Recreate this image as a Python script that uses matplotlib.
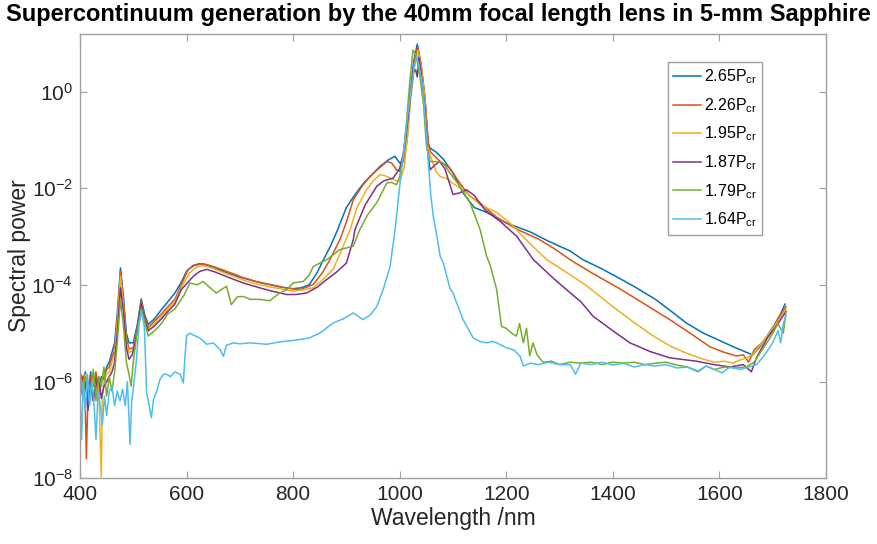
import numpy as np
import matplotlib
matplotlib.use('Agg')
import matplotlib.pyplot as plt
from matplotlib.ticker import NullLocator, FixedLocator

plt.rcParams['font.family'] = ['Liberation Sans', 'DejaVu Sans']
plt.rcParams['mathtext.fontset'] = 'custom'
plt.rcParams['mathtext.rm'] = 'Liberation Sans'
plt.rcParams['mathtext.it'] = 'Liberation Sans'

# spectra, values stored as log10(power)
wl_265 = [400, 405, 410, 415, 420, 425, 430, 435, 440, 445, 450, 455, 460, 465, 470, 476, 482, 487, 492, 500,
          508, 515, 521, 528, 540, 553, 565, 578, 590, 600, 612, 625, 640, 660, 680, 700, 720, 740, 760, 780,
          800, 815, 830, 845, 857, 870, 882, 900, 915, 932, 948, 963, 978, 991, 1000, 1006, 1012, 1019, 1026,
          1033, 1040, 1047, 1053, 1057, 1068, 1082, 1100, 1119, 1140, 1163, 1200, 1244, 1280, 1320, 1344,
          1376, 1410, 1444, 1480, 1510, 1538, 1570, 1600, 1630, 1654, 1662, 1675, 1690, 1705, 1715, 1723]
lp_265 = [-5.8, -6.0, -5.8, -6.3, -5.8, -6.4, -5.9, -6.2, -5.9, -5.95, -5.7, -5.6, -5.4, -5.2, -4.6, -3.65,
          -4.3, -5.0, -5.2, -5.2, -4.8, -4.29, -4.6, -4.82, -4.7, -4.51, -4.35, -4.17, -3.95, -3.72, -3.6,
          -3.56, -3.6, -3.68, -3.77, -3.84, -3.9, -3.96, -4.0, -4.05, -4.08, -4.06, -4.0, -3.75, -3.48, -3.2,
          -2.9, -2.4, -2.15, -1.9, -1.72, -1.55, -1.42, -1.34, -1.48, -1.45, -1.1, -0.1, 0.6, 0.98, 0.55,
          -0.1, -1.05, -1.17, -1.25, -1.4, -1.69, -2.1, -2.4, -2.5, -2.72, -2.9, -3.1, -3.3, -3.48, -3.65,
          -3.85, -4.06, -4.3, -4.55, -4.79, -5.0, -5.15, -5.3, -5.41, -5.45, -5.3, -5.05, -4.8, -4.6, -4.4]

wl_226 = [400, 405, 410, 412, 415, 420, 425, 430, 435, 440, 445, 450, 455, 460, 465, 470, 476, 482, 487, 492,
          500, 508, 515, 521, 528, 540, 553, 565, 578, 590, 603, 615, 631, 650, 670, 690, 706, 730, 750, 769,
          790, 813, 838, 855, 869, 888, 900, 913, 930, 944, 960, 976, 985, 994, 1000, 1008, 1014, 1020, 1027,
          1034, 1041, 1048, 1054, 1058, 1076, 1094, 1110, 1130, 1150, 1182, 1220, 1260, 1290, 1320, 1360,
          1413, 1460, 1507, 1545, 1582, 1610, 1632, 1645, 1655, 1665, 1680, 1695, 1710, 1725]
lp_226 = [-5.85, -5.9, -6.6, -7.6, -6.2, -5.9, -6.1, -5.8, -6.3, -6.0, -5.9, -5.75, -5.7, -5.5, -5.35, -4.7,
          -3.72, -4.4, -5.1, -5.33, -5.3, -4.85, -4.33, -4.65, -4.88, -4.75, -4.6, -4.45, -4.3, -4.0, -3.68,
          -3.6, -3.56, -3.62, -3.7, -3.78, -3.85, -3.93, -3.98, -4.03, -4.07, -4.1, -3.99, -3.75, -3.48,
          -3.06, -2.7, -2.24, -1.95, -1.76, -1.6, -1.45, -1.48, -1.62, -1.65, -1.4, -1.0, -0.1, 0.6, 0.92,
          0.5, -0.2, -1.1, -1.25, -1.45, -1.58, -1.85, -2.15, -2.3, -2.6, -2.85, -3.05, -3.25, -3.48, -3.75,
          -4.08, -4.4, -4.72, -5.0, -5.28, -5.4, -5.47, -5.45, -5.6, -5.35, -5.2, -5.0, -4.7, -4.45]

wl_195 = [400, 405, 410, 415, 420, 425, 430, 435, 440, 442, 445, 450, 455, 460, 465, 470, 476, 482, 487, 492,
          500, 508, 515, 521, 528, 540, 553, 565, 578, 590, 606, 618, 631, 650, 670, 690, 706, 730, 760, 800,
          820, 838, 855, 875, 894, 907, 920, 938, 950, 963, 972, 982, 992, 1000, 1008, 1015, 1021, 1028, 1034,
          1041, 1048, 1052, 1060, 1068, 1076, 1088, 1100, 1120, 1151, 1182, 1210, 1240, 1276, 1310, 1351,
          1400, 1440, 1476, 1510, 1540, 1570, 1590, 1610, 1625, 1640, 1655, 1670, 1690, 1710, 1725]
lp_195 = [-5.9, -6.2, -5.85, -6.1, -6.4, -5.9, -6.2, -6.0, -7.98, -6.3, -6.0, -5.85, -5.8, -5.6, -5.45, -4.8,
          -3.82, -4.5, -5.2, -5.4, -5.35, -4.9, -4.38, -4.7, -4.92, -4.8, -4.65, -4.5, -4.35, -4.05, -3.75,
          -3.64, -3.6, -3.66, -3.75, -3.83, -3.9, -3.98, -4.05, -4.13, -4.1, -4.06, -3.9, -3.68, -3.2, -2.86,
          -2.4, -2.03, -1.85, -1.72, -1.74, -1.79, -1.84, -1.86, -1.6, -0.9, -0.1, 0.55, 0.85, 0.45, -0.25,
          -1.15, -1.4, -1.65, -1.76, -1.8, -1.9, -2.05, -2.34, -2.5, -2.75, -3.1, -3.48, -3.72, -4.02, -4.45,
          -4.78, -5.06, -5.28, -5.42, -5.54, -5.6, -5.58, -5.62, -5.55, -5.5, -5.35, -5.05, -4.75, -4.5]

wl_187 = [400, 405, 410, 415, 420, 425, 430, 435, 440, 445, 450, 455, 460, 465, 470, 476, 482, 487, 492, 498,
          505, 515, 521, 528, 540, 553, 565, 578, 590, 613, 625, 638, 655, 680, 706, 740, 760, 788, 805, 825,
          845, 863, 880, 900, 913, 916, 935, 957, 970, 988, 1000, 1007, 1014, 1020, 1026, 1030, 1033, 1036,
          1040, 1047, 1052, 1057, 1066, 1075, 1085, 1100, 1112, 1125, 1140, 1160, 1190, 1220, 1251, 1288,
          1313, 1340, 1363, 1400, 1432, 1470, 1507, 1557, 1590, 1620, 1645, 1660, 1670, 1690, 1710, 1725]
lp_187 = [-5.95, -6.3, -6.0, -6.6, -6.0, -6.4, -6.1, -5.9, -6.35, -6.1, -6.0, -5.9, -5.8, -5.6, -5.0, -4.06,
          -4.6, -5.3, -5.54, -5.45, -5.1, -4.38, -4.7, -4.95, -4.85, -4.7, -4.55, -4.4, -4.1, -3.82, -3.72,
          -3.68, -3.74, -3.85, -3.96, -4.07, -4.13, -4.2, -4.2, -4.17, -4.05, -3.89, -3.75, -3.55, -3.06,
          -2.86, -2.35, -1.96, -1.85, -1.79, -1.59, -1.27, -0.7, -0.1, 0.4, 0.45, 0.3, 0.7, 0.4, -0.3, -1.2,
          -1.62, -1.52, -1.45, -1.6, -2.13, -2.1, -2.03, -2.15, -2.45, -2.7, -3.0, -3.48, -3.86, -4.1, -4.35,
          -4.65, -4.95, -5.2, -5.38, -5.51, -5.58, -5.65, -5.7, -5.65, -5.8, -5.5, -5.1, -4.8, -4.55]

wl_179 = [400, 405, 410, 415, 420, 425, 430, 435, 440, 445, 450, 455, 460, 465, 470, 476, 482, 487, 492, 496,
          500, 507, 515, 521, 528, 540, 553, 565, 578, 590, 596, 606, 620, 631, 643, 656, 665, 675, 684, 695,
          706, 720, 738, 756, 765, 775, 788, 800, 819, 830, 838, 850, 863, 888, 913, 925, 940, 957, 976, 985,
          994, 1000, 1007, 1013, 1019, 1025, 1031, 1038, 1045, 1050, 1057, 1070, 1082, 1095, 1113, 1132, 1151,
          1163, 1170, 1182, 1191, 1200, 1210, 1219, 1225, 1232, 1238, 1244, 1250, 1258, 1269, 1285, 1300,
          1320, 1340, 1360, 1380, 1400, 1420, 1440, 1460, 1480, 1500, 1520, 1540, 1560, 1575, 1590, 1610,
          1630, 1650, 1665, 1680, 1695, 1710, 1720, 1725]
lp_179 = [-5.8, -6.3, -5.9, -6.0, -6.2, -5.75, -6.4, -5.9, -6.1, -5.7, -6.3, -5.9, -6.2, -5.8, -5.2, -4.3,
          -4.9, -5.6, -5.85, -6.1, -5.6, -5.0, -4.48, -4.75, -5.06, -4.95, -4.8, -4.6, -4.5, -4.3, -4.2, -3.96,
          -4.0, -3.93, -4.05, -4.17, -4.1, -4.03, -4.41, -4.25, -4.24, -4.3, -4.3, -4.33, -4.25, -4.17, -4.1,
          -3.96, -3.93, -3.8, -3.62, -3.55, -3.48, -3.27, -3.2, -2.86, -2.55, -2.3, -1.89, -1.88, -1.93,
          -1.76, -1.3, -0.6, 0.2, 0.86, 0.75, 0.3, -0.3, -1.1, -1.45, -1.45, -1.48, -1.7, -1.96, -2.3, -2.86,
          -3.4, -3.6, -4.1, -4.86, -4.9, -5.0, -5.06, -4.8, -5.2, -4.9, -5.47, -5.2, -5.45, -5.6, -5.58,
          -5.65, -5.6, -5.62, -5.6, -5.65, -5.6, -5.62, -5.6, -5.65, -5.62, -5.6, -5.66, -5.7, -5.8, -5.68,
          -5.75, -5.7, -5.72, -5.7, -5.6, -5.35, -5.1, -4.8, -5.0, -4.55]

wl_164 = [400, 403, 406, 410, 414, 418, 422, 426, 430, 434, 438, 442, 446, 450, 455, 460, 465, 470, 475, 480,
          485, 489, 494, 497, 500, 506, 511, 516, 521, 525, 530, 534, 538, 544, 550, 557, 563, 570, 578, 588,
          594, 597, 600, 606, 615, 625, 638, 650, 663, 669, 675, 688, 700, 720, 750, 775, 800, 813, 830, 850,
          875, 895, 913, 931, 945, 957, 969, 982, 992, 1000, 1008, 1015, 1022, 1029, 1032, 1036, 1044, 1052,
          1058, 1063, 1070, 1076, 1082, 1094, 1100, 1119, 1138, 1150, 1163, 1175, 1182, 1200, 1215, 1226,
          1232, 1245, 1260, 1280, 1300, 1320, 1330, 1340, 1360, 1380, 1400, 1420, 1440, 1460, 1480, 1500,
          1520, 1540, 1560, 1575, 1590, 1605, 1620, 1640, 1655, 1670, 1685, 1700, 1710, 1715, 1720, 1725]
lp_164 = [-6.3, -7.2, -6.0, -6.6, -5.85, -6.5, -6.0, -6.4, -7.2, -6.2, -6.5, -6.9, -6.3, -6.7, -6.2, -6.1,
          -6.5, -6.2, -6.4, -6.16, -6.5, -6.0, -7.3, -6.4, -6.16, -5.54, -4.8, -4.55, -4.9, -6.23, -6.5,
          -6.75, -6.37, -6.2, -5.96, -5.85, -5.85, -5.9, -5.8, -5.85, -6.03, -5.5, -5.05, -5.0, -5.05, -5.1,
          -5.23, -5.2, -5.34, -5.48, -5.25, -5.2, -5.22, -5.2, -5.23, -5.18, -5.15, -5.13, -5.1, -5.0, -4.79,
          -4.7, -4.58, -4.72, -4.62, -4.45, -4.1, -3.62, -2.8, -1.96, -1.2, -0.5, 0.1, 0.6, 0.72, 0.55, 0.03,
          -1.2, -2.1, -2.58, -3.0, -3.41, -3.55, -4.06, -4.17, -4.72, -5.1, -5.17, -5.2, -5.17, -5.2, -5.3,
          -5.35, -5.48, -5.68, -5.62, -5.65, -5.6, -5.65, -5.65, -5.85, -5.62, -5.65, -5.6, -5.66, -5.62,
          -5.7, -5.65, -5.68, -5.65, -5.72, -5.7, -5.78, -5.68, -5.75, -5.82, -5.7, -5.75, -5.7, -5.65,
          -5.45, -5.2, -4.95, -5.2, -4.8, -4.65]

series = [(wl_265, lp_265, '2.65P$_{\\rm cr}$', '#0072BD'),
          (wl_226, lp_226, '2.26P$_{\\rm cr}$', '#D95319'),
          (wl_195, lp_195, '1.95P$_{\\rm cr}$', '#EDB120'),
          (wl_187, lp_187, '1.87P$_{\\rm cr}$', '#7E2F8E'),
          (wl_179, lp_179, '1.79P$_{\\rm cr}$', '#77AC30'),
          (wl_164, lp_164, '1.64P$_{\\rm cr}$', '#4DBEEE')]

fig = plt.figure(figsize=(8.77, 5.44), dpi=100)
ax = fig.add_axes([0.0912, 0.121, 0.8506, 0.8165])

for wl, lp, lab, col in series:
    ax.plot(wl, 10.0 ** np.array(lp), color=col, lw=1.1, label=lab)

ax.set_yscale('log')
ax.set_xlim(400, 1800)
ax.set_ylim(1e-8, 10 ** 1.19)
ax.xaxis.set_major_locator(FixedLocator(np.arange(400, 1801, 200)))
ax.yaxis.set_major_locator(FixedLocator([1e-8, 1e-6, 1e-4, 1e-2, 1e0]))
ax.yaxis.set_minor_locator(NullLocator())

for sp in ax.spines.values():
    sp.set_color('#a0a0a0')
    sp.set_linewidth(1.0)
ax.tick_params(which='both', direction='in', top=True, right=True, length=5,
               color='#a0a0a0', labelcolor='#262626', labelsize=15, pad=5)

ax.set_xlabel('Wavelength /nm', fontsize=16.5, color='#262626', labelpad=2)
ax.set_ylabel('Spectral power', fontsize=16.5, color='#262626', labelpad=0)
fig.text(0.5, 0.974, 'Supercontinuum generation by the 40mm focal length lens in 5-mm Sapphire',
         ha='center', va='center', fontsize=17, fontweight='bold')

leg = ax.legend(loc='upper left', bbox_to_anchor=(0.788, 0.937), borderaxespad=0,
                fontsize=11.5, handlelength=1.75, labelspacing=0.62, fancybox=False,
                edgecolor='#a0a0a0', framealpha=1, borderpad=0.35, handletextpad=0.15)
leg.get_frame().set_linewidth(1.0)

fig.savefig('out.png', dpi=100)
